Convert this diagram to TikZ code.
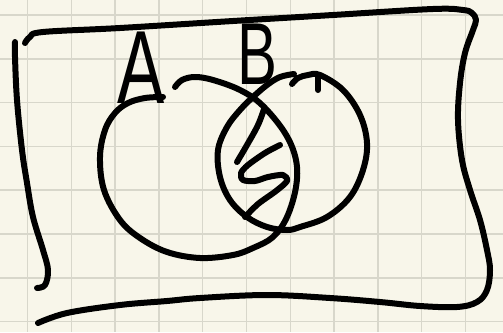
\documentclass[tikz,border=0pt]{standalone}
\usepackage{fontspec}
\setmainfont{Liberation Sans}
\definecolor{paper}{RGB}{248,246,234}
\definecolor{gridc}{RGB}{216,215,203}
\begin{document}
\begin{tikzpicture}[x=1pt,y=-1pt,
  pen/.style={line width=6pt, line cap=round, line join=round, black},
  gridline/.style={gridc, line width=1.5pt},
  letter/.style={inner sep=0pt, anchor=base, text=black}]
\fill[paper] (0,0) rectangle (503,332);
\useasboundingbox (0,0) rectangle (503,332);
\foreach \i in {0,...,10} \draw[gridline] ({27.5+43.8*\i},0) -- ({27.5+43.8*\i},332);
\foreach \j in {0,...,7} \draw[gridline] (0,{15+43.8*\j}) -- (503,{15+43.8*\j});
% frame: top, right and bottom in one stroke
\draw[pen] plot[smooth, tension=0.6] coordinates {(25,43) (30,37) (43,32) (120,28) (233,21) (333,15) (433,9) (463,10) (472,13) (476,20) (473,30) (465,53) (460,83) (458,120) (462,160) (470,190) (480,220) (487,250) (490,270) (487,290) (477,302) (457,307) (420,306) (380,302) (330,298) (267,295) (200,298) (167,301) (120,305) (67,313) (38,323)};
% frame: left side
\draw[pen] plot[smooth, tension=0.6] coordinates {(15,42) (15,57) (17,100) (22,150) (27,183) (33,217) (43,250) (48,270) (45,285) (37,288)};
% labels
\node[letter, font=\fontsize{104}{104}\selectfont, xscale=0.68] (labelA) at (141,103) {A};
\node[letter, font=\fontsize{88}{88}\selectfont, xscale=0.68] (labelB) at (257,84) {B};
% circle A
\draw[pen] plot[smooth, tension=0.6] coordinates {(163,97) (145,98) (128,103) (115,113) (105,130) (100,157) (104,190) (120,220) (140,238) (167,252) (200,258) (233,255) (253,248) (273,237) (287,217) (296,187) (296,160) (285,133) (262,105) (240,90) (213,80) (195,77) (182,80) (175,87)};
% circle B
\draw[pen] plot[smooth, tension=0.6] coordinates {(292,84) (298,78) (308,75) (320,75) (343,90) (360,115) (367,143) (363,170) (350,197) (327,217) (300,227) (287,230) (267,227) (247,217) (230,200) (220,177) (218,150) (227,127) (240,110) (253,97) (267,85) (280,77) (294,74)};
\draw[pen] (318,76) -- (318,90);
% shading of the intersection
\draw[pen] plot[smooth, tension=0.6] coordinates {(264,109) (258,125) (247,145) (237,162)};
\draw[pen] plot[smooth, tension=0.5] coordinates {(280,145) (265,153) (248,165) (241,173) (243,180) (255,181) (268,177) (283,175) (287,181) (276,191) (258,204) (245,217)};
\end{tikzpicture}
\end{document}
